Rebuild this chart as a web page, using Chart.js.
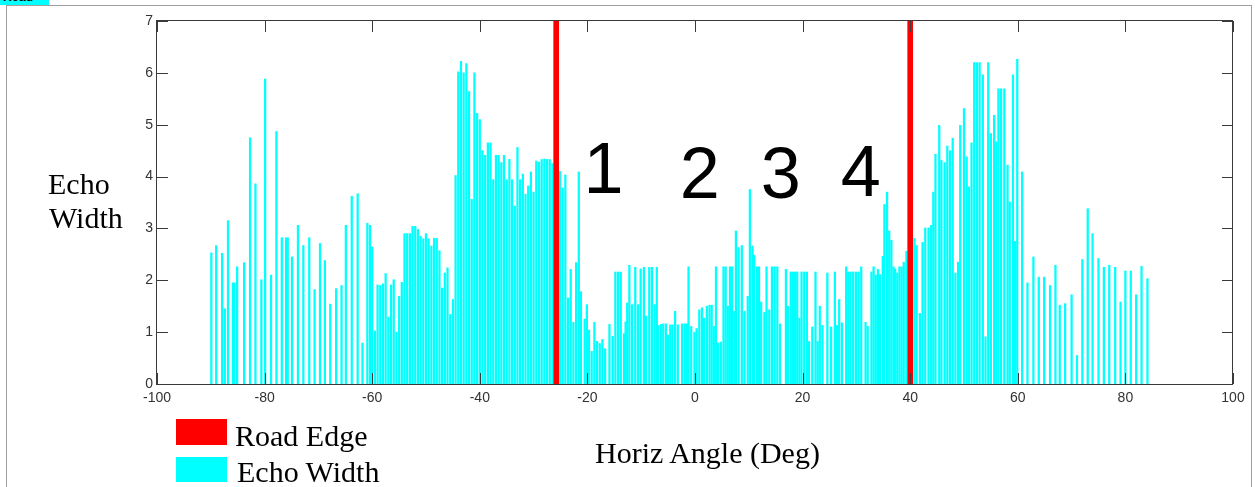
<!DOCTYPE html>
<html><head><meta charset="utf-8">
<script src="https://cdn.jsdelivr.net/npm/chart.js@4"></script>
<style>
html,body{margin:0;padding:0;background:#fff;}
#wrap{position:relative;width:1255px;height:487px;overflow:hidden;}
#frame{position:absolute;left:6px;top:5px;width:1244px;height:500px;border:1px solid #a0a0a0;border-bottom:none;}
#tag{position:absolute;left:0;top:0;width:49px;height:5px;background:#00ffff;overflow:hidden;}
#tag span{position:absolute;left:3px;top:-10px;font:bold 12px 'Liberation Sans',Arial,sans-serif;color:#000;}
canvas{position:absolute;left:0;top:0;}
.serif{position:absolute;font-family:'Liberation Serif','Times New Roman',serif;font-size:30px;line-height:30px;color:#000;white-space:nowrap;}
.sw{position:absolute;}
</style></head>
<body><div id="wrap">
<div id="frame"></div>
<div id="tag"><span>Road</span></div>
<canvas id="c" width="1255" height="487"></canvas>
<div class="serif" style="left:48px;top:169px">Echo</div>
<div class="serif" style="left:49px;top:203px">Width</div>
<div class="serif" id="xtitle" style="left:595px;top:438px">Horiz Angle (Deg)</div>
<div class="sw" style="left:176px;top:419px;width:51px;height:26px;background:#ff0000"></div>
<div class="serif" style="left:235px;top:421px">Road Edge</div>
<div class="sw" style="left:176px;top:457px;width:51px;height:25px;background:#00ffff"></div>
<div class="serif" style="left:237px;top:457px">Echo Width</div>
</div>
<script>
// ---- data ----
const xTicksMin = -100, xTicksMax = 100, xTickStep = 20;
const yTicksMin = 0, yTicksMax = 7, yTickStep = 1;

const roadEdgeAngles = [-25.8, 40.0];
const roadEdgeTops = [7, 7];

const angles = [
  -89.9, -89.0, -87.9, -87.4, -86.8, -85.9, -85.6, -85.1, -83.8, -82.7,
  -81.7, -80.6, -79.9, -78.8, -77.8, -76.8, -76.0, -75.7, -74.9, -73.8,
  -72.8, -71.7, -70.7, -69.7, -68.8, -67.8, -66.7, -65.7, -64.9, -63.8,
  -62.7, -61.8, -60.9,
  -60.4, -60.0, -59.5, -59.0, -58.5, -58.0, -57.5, -57.0, -56.5, -56.0, -55.5,
  -55.0, -54.5, -54.0, -53.5, -53.0, -52.5, -52.0, -51.5, -51.0, -50.5,
  -50.0, -49.5, -49.0, -48.5, -48.0, -47.5, -47.0, -46.5, -46.0, -45.5,
  -45.0, -44.5, -44.0, -43.5, -43.0, -42.5, -42.0, -41.5, -41.0, -40.5,
  -40.0, -39.5, -39.0, -38.5, -38.0, -37.5, -37.0, -36.5, -36.0, -35.5,
  -35.0, -34.5, -34.0, -33.5, -33.0, -32.5, -32.0, -31.5, -31.0, -30.5,
  -30.0, -29.5, -29.0, -28.5, -28.0, -27.5, -27.0, -26.5, -26.0,
  -25.1, -24.6, -24.1, -23.6, -23.1, -22.6, -22.1, -21.6, -21.2, -20.5,
  -20.1, -19.7, -19.2, -18.7, -18.2, -17.7, -17.2, -16.7, -15.9, -15.3,
  -14.8, -14.3, -13.8, -13.2, -12.9, -12.6, -12.2, -11.7, -11.1, -10.6,
  -10.1, -9.5, -9.1, -8.5, -8.0, -7.5, -7.1,
  -6.8, -6.3, -5.9, -5.4, -5.0, -4.6, -4.2, -3.7, -3.2, -2.4,
  -1.9, -1.5, -1.2, -0.7, -0.1, 0.3, 0.8, 1.3, 1.7, 2.2,
  2.7, 3.1, 3.5, 3.9, 4.3, 4.8, 5.3, 5.7, 6.1, 6.5,
  6.9, 7.3, 7.6, 8.1, 8.7, 9.2, 9.8, 10.2, 10.7, 11.0,
  11.5, 11.9, 12.3, 12.9, 13.3, 13.8, 14.3, 14.8, 15.3,
  15.8, 16.9, 17.3, 17.8, 18.2, 18.6, 19.0, 19.4, 19.8, 20.3,
  20.8, 21.2, 21.8, 22.4, 22.8, 23.2, 23.7, 24.6, 25.3, 26.0,
  26.4, 26.8, 27.3, 28.1, 28.5, 28.9, 29.4, 29.9, 30.4, 30.9,
  31.7, 32.1, 32.8, 33.2, 33.6, 34.0, 34.4, 34.9, 35.2, 35.7,
  36.1, 36.5, 36.9, 37.2, 37.6, 38.0, 38.4, 38.8, 39.3,
  40.8, 41.2, 41.8, 42.3, 42.8, 43.4, 43.9, 44.3, 44.7, 45.4,
  45.8, 46.4, 46.9, 47.4, 47.9, 48.4, 48.9, 49.3, 50.0, 50.5,
  50.9, 51.4, 51.9, 52.4, 52.9, 53.5, 54.0, 54.5, 55.0, 55.6,
  56.0, 56.4, 56.9, 57.5, 58.1, 58.5, 59.1, 59.5, 59.9, 60.8,
  61.8, 62.9, 63.9, 64.9, 66.0, 67.0, 67.8, 68.8, 70.0, 71.0,
  72.0, 73.0, 73.9, 75.0, 76.0, 77.0, 78.1, 79.1, 80.0, 81.0,
  82.0, 83.0, 84.1
];

const widths = [
  2.53, 2.67, 2.52, 1.45, 3.15, 1.95, 1.95, 2.26, 2.34, 4.75,
  3.86, 2.01, 5.88, 2.10, 4.87, 2.82, 2.82, 2.82, 2.45, 3.06,
  2.67, 2.82, 1.82, 2.71, 2.38, 1.54, 1.84, 1.90, 3.06, 3.62,
  3.67, 0.79, 3.10,
  3.06, 2.64, 1.02, 1.91, 1.90, 1.93, 2.13, 1.29, 1.91, 2.01, 1.00,
  1.69, 1.96, 2.90, 2.90, 2.90, 3.04, 3.04, 2.98, 2.85, 2.80,
  2.90, 2.80, 2.66, 2.81, 2.81, 2.57, 1.85, 2.14, 2.24, 1.34,
  1.63, 4.02, 6.02, 6.22, 6.00, 6.18, 5.64, 3.56, 6.00, 5.22,
  5.10, 4.50, 4.41, 4.65, 4.65, 3.94, 4.41, 4.41, 4.27, 4.41,
  3.94, 4.33, 3.94, 3.43, 4.56, 3.94, 4.05, 3.66, 3.82, 4.09,
  3.70, 4.30, 4.28, 4.33, 4.34, 4.33, 4.33, 4.25, 4.19,
  4.10, 3.78, 4.03, 1.66, 2.21, 1.19, 2.34, 4.09, 1.78, 1.25,
  1.53, 1.04, 0.63, 1.19, 0.82, 0.78, 0.86, 0.68, 1.15, 0.92,
  2.16, 2.16, 2.16, 0.97, 1.20, 1.56, 2.29, 1.53, 2.25, 1.53,
  2.22, 2.25, 1.31, 2.25, 2.25, 1.53, 2.25,
  1.13, 1.15, 1.16, 1.16, 0.94, 1.14, 1.14, 1.40, 1.14, 1.16,
  1.16, 1.16, 2.26, 1.11, 1.00, 1.07, 1.43, 1.47, 1.27, 1.50,
  1.52, 1.52, 1.11, 2.26, 0.79, 0.81, 2.26, 2.26, 1.50, 2.26,
  2.26, 1.40, 2.95, 2.63, 2.67, 1.40, 1.69, 3.75, 2.66, 2.48,
  2.26, 2.26, 1.58, 1.38, 2.26, 1.43, 2.26, 2.26, 2.26,
  1.16, 2.21, 1.50, 2.16, 2.16, 2.16, 2.16, 1.27, 2.16, 2.16,
  2.16, 0.82, 1.10, 2.16, 0.82, 1.50, 1.13, 2.14, 1.10, 2.16,
  1.13, 1.63, 1.18, 2.26, 2.16, 2.16, 2.16, 2.16, 2.16, 2.26,
  1.19, 1.11, 2.16, 2.26, 2.10, 2.21, 2.11, 2.46, 3.46, 3.70,
  2.95, 2.77, 2.26, 2.22, 2.14, 2.26, 2.26, 2.35, 2.56,
  2.81, 2.67, 1.36, 2.73, 3.01, 3.01, 3.06, 3.70, 4.43, 4.99,
  4.31, 4.27, 4.59, 4.50, 4.74, 2.14, 2.35, 4.99, 5.31, 4.38,
  3.80, 4.65, 6.20, 6.20, 6.20, 5.96, 0.91, 6.20, 4.83, 5.18,
  4.67, 5.69, 5.69, 5.69, 4.22, 3.51, 5.96, 2.75, 6.26, 4.09,
  1.95, 2.45, 2.06, 2.06, 1.90, 2.29, 1.52, 1.55, 1.72, 0.55,
  2.40, 3.38, 2.90, 2.42, 2.25, 2.29, 2.25, 1.58, 2.18, 2.18,
  1.72, 2.27, 2.03
];

// zone annotations "1".."4" (angle of text centre, baseline in echo-width units)
const zoneLabels = ['1', '2', '3', '4'];
const zoneAngles = [-17.0, 0.9, 15.95, 30.8];
const zoneBaselines = [3.69, 3.58, 3.58, 3.62];

// ---- drawing ----
const TICK_LEN = 11;
const tickFont = {family: "'Liberation Sans', Arial, sans-serif", size: 14};

const boxAndTicks = {
  id: 'boxAndTicks',
  afterDatasetsDraw(chart) {
    const {ctx, chartArea: a, scales: {x, y}} = chart;
    ctx.save();
    ctx.strokeStyle = '#3a3a3a';
    ctx.lineWidth = 1;
    ctx.beginPath();
    x.ticks.forEach(t => {
      const px = Math.round(x.getPixelForValue(t.value)) + 0.5;
      ctx.moveTo(px, a.bottom); ctx.lineTo(px, a.bottom - TICK_LEN);
      ctx.moveTo(px, a.top); ctx.lineTo(px, a.top + TICK_LEN);
    });
    y.ticks.forEach(t => {
      const py = Math.round(y.getPixelForValue(t.value)) + 0.5;
      ctx.moveTo(a.left, py); ctx.lineTo(a.left + TICK_LEN, py);
      ctx.moveTo(a.right, py); ctx.lineTo(a.right - TICK_LEN, py);
    });
    ctx.stroke();
    ctx.strokeRect(a.left - 0.5, a.top - 0.5, a.right - a.left, a.bottom - a.top + 1);
    // zone numbers
    ctx.fillStyle = '#000';
    ctx.font = "72px 'Liberation Sans', Arial, sans-serif";
    ctx.textAlign = 'center';
    ctx.textBaseline = 'alphabetic';
    zoneLabels.forEach((lab, i) => {
      ctx.fillText(lab, x.getPixelForValue(zoneAngles[i]), y.getPixelForValue(zoneBaselines[i]));
    });
    ctx.restore();
  }
};

new Chart(document.getElementById('c'), {
  type: 'bar',
  data: {
    datasets: [
      {
        label: 'Road Edge',
        data: roadEdgeAngles.map((a, i) => ({x: a, y: roadEdgeTops[i]})),
        backgroundColor: '#ff0000',
        barThickness: 5,
        grouped: false,
        order: 0
      },
      {
        label: 'Echo Width',
        data: angles.map((a, i) => ({x: a, y: widths[i]})),
        backgroundColor: '#00ffff',
        barThickness: 1.6,
        grouped: false,
        order: 1
      }
    ]
  },
  options: {
    responsive: false,
    animation: false,
    devicePixelRatio: 1,
    layout: {padding: {left: 0, top: 21, right: 22, bottom: 0}},
    plugins: {legend: {display: false}, tooltip: {enabled: false}},
    scales: {
      x: {
        type: 'linear', min: xTicksMin, max: xTicksMax, offset: false,
        ticks: {stepSize: xTickStep, padding: 6, color: '#333', font: tickFont, maxRotation: 0, autoSkip: false},
        grid: {display: false, drawTicks: false},
        border: {display: false},
        afterFit(s) { s.height = 103; }
      },
      y: {
        min: yTicksMin, max: yTicksMax,
        ticks: {stepSize: yTickStep, padding: 4, color: '#333', font: tickFont},
        grid: {display: false, drawTicks: false},
        border: {display: false},
        afterFit(s) { s.width = 157; }
      }
    }
  },
  plugins: [boxAndTicks]
});
</script>
</body></html>
